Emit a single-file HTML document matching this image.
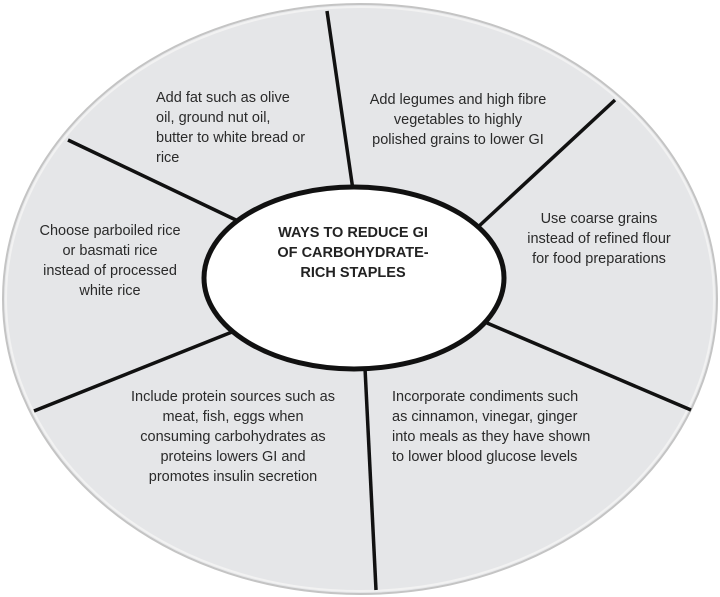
<!DOCTYPE html>
<html><head><meta charset="utf-8"><style>
html,body{margin:0;padding:0;background:#fff;}
svg{display:block;}
text{font-family:"Liberation Sans",sans-serif;font-size:14.5px;fill:#2a2a2a;}
.b{font-weight:bold;fill:#222;font-size:14.5px;}
</style></head><body>
<svg width="720" height="597" viewBox="0 0 720 597">
<ellipse cx="360" cy="299" rx="357" ry="295" fill="#e5e6e8" stroke="#c4c4c4" stroke-width="2"/>
<ellipse cx="360" cy="299" rx="354" ry="292" fill="none" stroke="#f2f2f2" stroke-width="2"/>
<g stroke="#111" stroke-width="3.5" stroke-linecap="butt">
<line x1="327" y1="11" x2="353" y2="190"/>
<line x1="615" y1="100" x2="478" y2="227"/>
<line x1="487" y1="323" x2="691" y2="410"/>
<line x1="365" y1="368" x2="376" y2="590"/>
<line x1="232" y1="332" x2="34" y2="411"/>
<line x1="68" y1="140" x2="238" y2="221"/>
</g>
<ellipse cx="354" cy="278" rx="150" ry="91" fill="#fff" stroke="#111" stroke-width="5"/>
<g text-anchor="middle">
<text class="b" x="353" y="237">WAYS TO REDUCE GI</text>
<text class="b" x="353" y="257">OF CARBOHYDRATE-</text>
<text class="b" x="353" y="277">RICH STAPLES</text>
</g>
<text x="156" y="102">Add fat such as olive</text>
<text x="156" y="122">oil, ground nut oil,</text>
<text x="156" y="142">butter to white bread or</text>
<text x="156" y="162">rice</text>
<g text-anchor="middle">
<text x="458" y="104">Add legumes and high fibre</text>
<text x="458" y="124">vegetables to highly</text>
<text x="458" y="144">polished grains to lower GI</text>
<text x="599" y="223">Use coarse grains</text>
<text x="599" y="243">instead of refined flour</text>
<text x="599" y="263">for food preparations</text>
<text x="110" y="235">Choose parboiled rice</text>
<text x="110" y="255">or basmati rice</text>
<text x="110" y="275">instead of processed</text>
<text x="110" y="295">white rice</text>
<text x="233" y="401">Include protein sources such as</text>
<text x="233" y="421">meat, fish, eggs when</text>
<text x="233" y="441">consuming carbohydrates as</text>
<text x="233" y="461">proteins lowers GI and</text>
<text x="233" y="481">promotes insulin secretion</text>
</g>
<text x="392" y="401">Incorporate condiments such</text>
<text x="392" y="421">as cinnamon, vinegar, ginger</text>
<text x="392" y="441">into meals as they have shown</text>
<text x="392" y="461">to lower blood glucose levels</text>
</svg>
</body></html>
